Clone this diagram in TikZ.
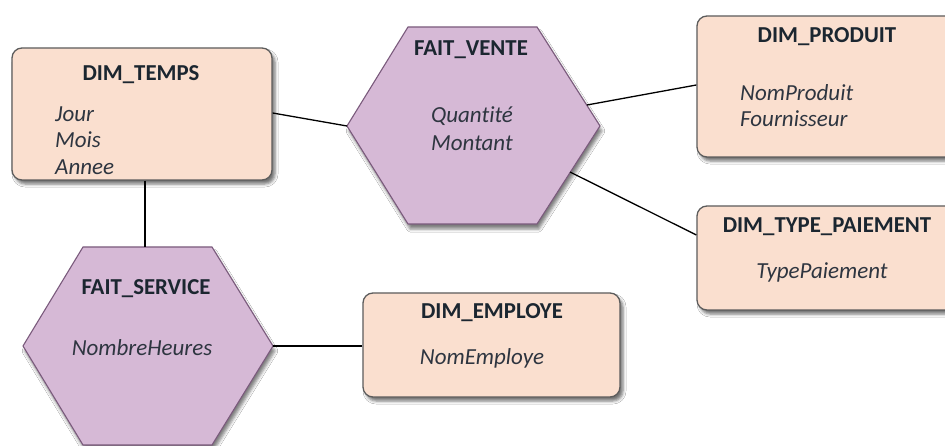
\documentclass[tikz,border=0pt]{standalone}
\usepackage{fontspec}
\setmainfont{Carlito}[Ligatures=NoCommon]
\usetikzlibrary{shadows.blur}
\definecolor{dimfill}{HTML}{FADFCF}
\definecolor{dimline}{HTML}{5C5C5C}
\definecolor{faitfill}{HTML}{D6B9D6}
\definecolor{faitline}{HTML}{7A5A7C}
\definecolor{titlecol}{HTML}{1B2630}
\definecolor{attrcol}{HTML}{2E3540}
\begin{document}
\begin{tikzpicture}[x=1pt,y=-1pt,
  dimbox/.style={draw=dimline,line width=1.3pt,fill=dimfill,rounded corners=10pt,
    blur shadow={shadow xshift=3pt,shadow yshift=-4pt,shadow blur radius=3pt,shadow opacity=55}},
  fait/.style={draw=faitline,line width=1.1pt,fill=faitfill,
    blur shadow={shadow xshift=2pt,shadow yshift=-5pt,shadow blur radius=3pt,shadow opacity=50}},
  ttl/.style={font=\fontsize{22.8}{26}\selectfont\bfseries,text=titlecol,inner sep=0pt},
  attr/.style={font=\fontsize{23}{28}\selectfont\itshape,text=attrcol,inner sep=0pt,align=left},
  link/.style={draw=black,line width=1.3pt}]
\useasboundingbox (0,0) rectangle (945,446);
\fill[white] (0,0) rectangle (945,446);

% dimension tables
\node[dimbox,minimum width=260pt,minimum height=132pt] (temps) at (142,114) {};
\node[dimbox,minimum width=270pt,minimum height=141pt] (produit) at (832,86.5) {};
\node[dimbox,minimum width=270pt,minimum height=104pt] (paiement) at (832,258) {};
\node[dimbox,minimum width=257pt,minimum height=104pt] (employe) at (491.5,345) {};

% fact tables
\path[fait] (408,27) -- (537,27) -- (600,126) -- (537,224) -- (408,224) -- (347,126) -- cycle;
\coordinate (venteL) at (347,126);
\coordinate (venteUR) at (587,105);
\coordinate (venteLR) at (570,172);
\path[fait] (83,247) -- (212,247) -- (273,346) -- (212,445) -- (83,445) -- (23,346) -- cycle;
\coordinate (serviceT) at (145,247);
\coordinate (serviceR) at (273,346);

% labels
\node[ttl] (tTemps) at (141,75) {DIM\_TEMPS};
\node[attr,anchor=west] (aJour) at (55,114) {Jour};
\node[attr,anchor=west] (aMois) at (55,140) {Mois};
\node[attr,anchor=west] (aAnnee) at (55,167) {Annee};

\node[ttl] (tVente) at (471,50) {FAIT\_VENTE};
\node[attr,align=center] (aVente) at (472,129) {Quantité\\Montant};

\node[ttl] (tProduit) at (827,37) {DIM\_PRODUIT};
\node[attr,anchor=west] (aNomP) at (740,93) {NomProduit};
\node[attr,anchor=west] (aFourn) at (740,119) {Fournisseur};

\node[ttl] (tPaiement) at (827,227) {DIM\_TYPE\_PAIEMENT};
\node[attr] (aType) at (822,272) {TypePaiement};

\node[ttl] (tService) at (146,289) {FAIT\_SERVICE};
\node[attr] (aHeures) at (142,348) {NombreHeures};

\node[ttl] (tEmploye) at (492,313) {DIM\_EMPLOYE};
\node[attr] (aNomE) at (482,358) {NomEmploye};

% links
\draw[link] (temps.east |- 0,113) -- (venteL);
\draw[link] (temps.south -| serviceT) -- (serviceT);
\draw[link] (venteUR) -- (produit.west |- 0,85);
\draw[link] (venteLR) -- (paiement.west |- 0,235);
\draw[link] (serviceR) -- (employe.west |- 0,346);
\end{tikzpicture}
\end{document}
